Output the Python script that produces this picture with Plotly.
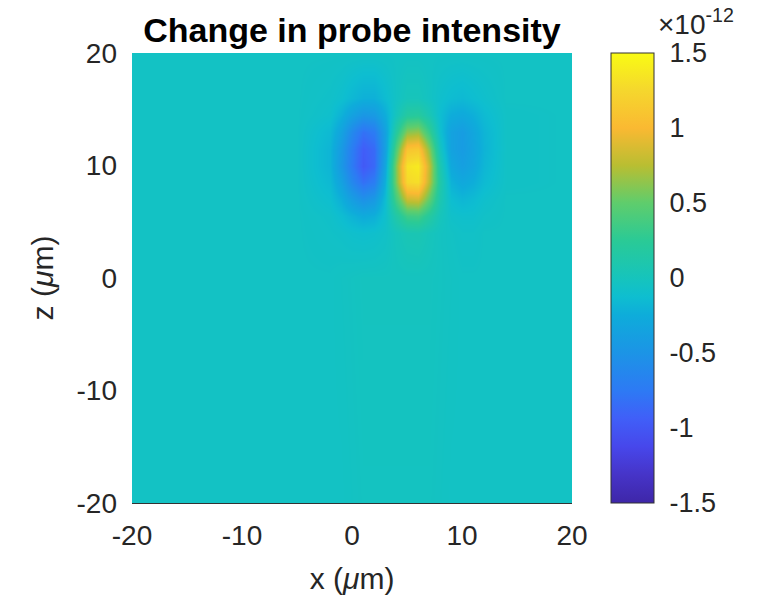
import plotly.graph_objects as go

x_um = [-20, -5, -2, -1, 0, 1, 2, 3, 4, 5, 6, 7, 8, 9, 10, 11, 12, 14, 20]
z_um = [-20, 0, 4, 5.5, 7, 8.5, 10, 11.5, 13, 14.5, 16, 20]

# Change in probe intensity, in units of 1e-12 (one row per z value)
row_zm20 = [-0.05, -0.05, -0.05, -0.05, -0.04, -0.03, -0.03, -0.03, -0.03, -0.03, -0.03, -0.03, -0.04, -0.05, -0.05, -0.05, -0.05, -0.05, -0.05]
row_z0 = [-0.05, -0.05, -0.05, -0.04, -0.03, -0.02, -0.02, -0.02, -0.02, -0.02, -0.02, -0.02, -0.03, -0.04, -0.05, -0.05, -0.05, -0.05, -0.05]
row_z4 = [-0.05, -0.05, -0.07, -0.08, -0.10, -0.11, -0.10, -0.07, 0.00, 0.05, 0.06, 0.01, -0.03, -0.05, -0.07, -0.07, -0.05, -0.05, -0.05]
row_z5_5 = [-0.05, -0.05, -0.08, -0.13, -0.20, -0.26, -0.23, -0.10, 0.14, 0.34, 0.36, 0.19, 0.01, -0.08, -0.10, -0.10, -0.07, -0.05, -0.05]
row_z7 = [-0.05, -0.05, -0.12, -0.23, -0.40, -0.53, -0.45, -0.14, 0.38, 0.82, 0.85, 0.50, 0.08, -0.13, -0.18, -0.15, -0.10, -0.05, -0.05]
row_z8_5 = [-0.05, -0.05, -0.16, -0.35, -0.62, -0.82, -0.72, -0.23, 0.58, 1.26, 1.30, 0.76, 0.13, -0.21, -0.29, -0.24, -0.15, -0.06, -0.05]
row_z10 = [-0.05, -0.05, -0.19, -0.45, -0.74, -0.98, -0.87, -0.31, 0.60, 1.33, 1.38, 0.80, 0.08, -0.29, -0.38, -0.31, -0.18, -0.06, -0.05]
row_z11_5 = [-0.05, -0.05, -0.19, -0.43, -0.72, -0.95, -0.86, -0.37, 0.42, 1.09, 1.13, 0.62, -0.02, -0.35, -0.42, -0.33, -0.20, -0.06, -0.05]
row_z13 = [-0.05, -0.05, -0.16, -0.34, -0.61, -0.81, -0.73, -0.36, 0.19, 0.62, 0.66, 0.31, -0.11, -0.35, -0.41, -0.31, -0.19, -0.06, -0.05]
row_z14_5 = [-0.05, -0.05, -0.10, -0.21, -0.36, -0.47, -0.44, -0.25, 0.00, 0.19, 0.21, 0.06, -0.13, -0.25, -0.28, -0.23, -0.15, -0.06, -0.05]
row_z16 = [-0.05, -0.05, -0.08, -0.11, -0.17, -0.22, -0.22, -0.14, -0.05, 0.01, 0.01, -0.04, -0.10, -0.14, -0.16, -0.13, -0.10, -0.05, -0.05]
row_z20 = [-0.05] * 19

field_rows = [row_zm20, row_z0, row_z4, row_z5_5, row_z7, row_z8_5, row_z10,
              row_z11_5, row_z13, row_z14_5, row_z16, row_z20]

axis_ticks = [-20, -10, 0, 10, 20]
cbar_ticks = [-1.5, -1, -0.5, 0, 0.5, 1, 1.5]
cbar_labels = ["-1.5", "-1", "-0.5", "0", "0.5", "1", "1.5"]
c_min, c_max = -1.5, 1.5

parula = [
    [0.000, "rgb(62,38,168)"],
    [0.063, "rgb(70,52,200)"],
    [0.125, "rgb(71,71,235)"],
    [0.188, "rgb(64,95,248)"],
    [0.250, "rgb(45,122,244)"],
    [0.333, "rgb(28,148,230)"],
    [0.417, "rgb(14,172,218)"],
    [0.458, "rgb(14,190,208)"],
    [0.500, "rgb(22,196,188)"],
    [0.583, "rgb(42,202,150)"],
    [0.667, "rgb(95,205,108)"],
    [0.750, "rgb(185,190,50)"],
    [0.833, "rgb(250,185,50)"],
    [0.917, "rgb(245,215,45)"],
    [1.000, "rgb(249,251,20)"],
]

FONT = "Liberation Sans, Arial, sans-serif"
GREY = "#262626"

# plot-area geometry in pixels
L, R, T, B = 132, 200, 53, 97
W, H = 772, 602
PW = W - L - R
PH = H - T - B
CB_LEFT, CB_W = 611, 43

fig = go.Figure(
    go.Heatmap(
        x=x_um, y=z_um, z=field_rows,
        zmin=c_min, zmax=c_max, zsmooth="best",
        colorscale=parula,
        colorbar=dict(
            x=(CB_LEFT - L) / PW, xanchor="left", xpad=0,
            y=0.5, yanchor="middle", len=1.0, lenmode="fraction", ypad=0,
            thickness=CB_W, thicknessmode="pixels",
            outlinewidth=1, outlinecolor="#333333",
            ticks="outside", ticklen=10, tickcolor="rgba(0,0,0,0)",
            tickvals=cbar_ticks, ticktext=cbar_labels,
            tickfont=dict(family=FONT, size=27, color=GREY),
        ),
    )
)

# small inward tick marks on the right edge of the colour bar
cb_right = (CB_LEFT + CB_W - L) / PW
for v in cbar_ticks[1:-1]:
    yy = (v - c_min) / (c_max - c_min)
    fig.add_shape(type="line", xref="paper", yref="paper",
                  x0=cb_right - 5 / PW, x1=cb_right, y0=yy, y1=yy,
                  line=dict(color="#262626", width=1.5))

fig.update_layout(
    width=W, height=H,
    margin=dict(l=L, r=R, t=T, b=B),
    paper_bgcolor="white", plot_bgcolor="white",
    font=dict(family=FONT, color=GREY),
    title=dict(
        text="<b>Change in probe intensity</b>",
        x=(L + PW / 2) / W, xanchor="center", xref="container",
        y=1 - 30 / H, yanchor="middle", yref="container",
        font=dict(family=FONT, size=34, color="black"),
    ),
    xaxis=dict(
        range=[-20, 20], tickvals=axis_ticks, ticktext=[str(t) for t in axis_ticks],
        ticks="", showgrid=False, zeroline=False,
        showline=True, linecolor="#333333", linewidth=1, mirror=False,
        tickfont=dict(family=FONT, size=28, color=GREY),
        ticklabelstandoff=7,
        title=dict(text="x (<i>μ</i>m)", font=dict(family=FONT, size=30, color=GREY), standoff=18),
    ),
    yaxis=dict(
        range=[-20, 20], tickvals=axis_ticks, ticktext=[str(t) for t in axis_ticks],
        ticks="", showgrid=False, zeroline=False, showline=False,
        tickfont=dict(family=FONT, size=28, color=GREY),
        ticklabelstandoff=14,
        title=dict(text="z (<i>μ</i>m)", font=dict(family=FONT, size=30, color=GREY), standoff=14),
    ),
    annotations=[
        dict(
            text="×10<sup>-12</sup>", xref="paper", yref="paper",
            x=(656 - L) / PW, y=1 + (T - 42) / PH,
            xanchor="left", yanchor="bottom", showarrow=False,
            font=dict(family=FONT, size=28, color=GREY),
        )
    ],
)

fig.write_html("out.html")
